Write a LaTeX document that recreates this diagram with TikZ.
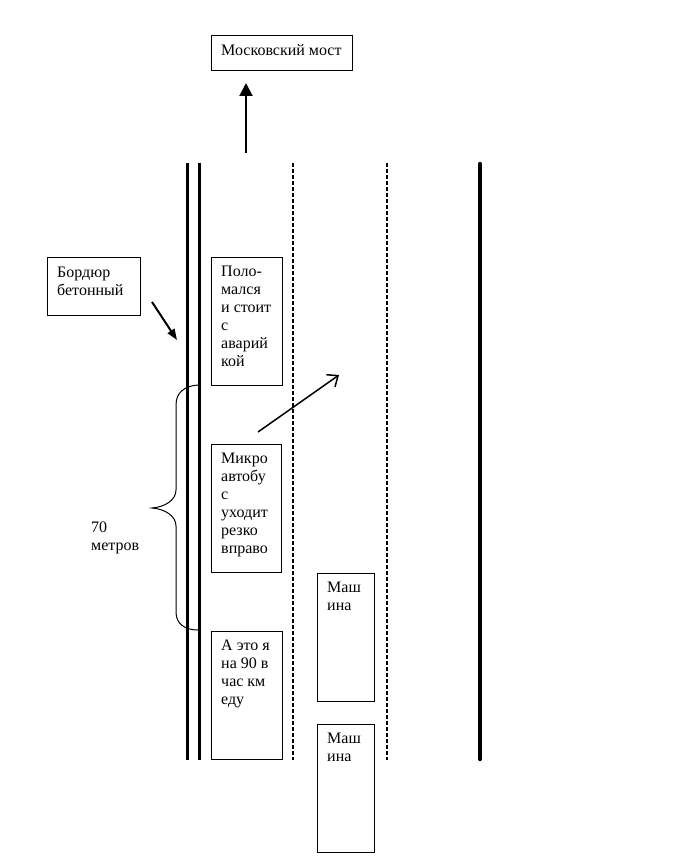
\documentclass[tikz,border=0pt]{standalone}
\usepackage{fontspec}
\setmainfont{Liberation Serif}
\usetikzlibrary{arrows.meta}
\tikzset{
  box/.style={draw, line width=0.9pt, inner sep=0pt, anchor=north west},
  txt/.style={inner sep=0pt, anchor=base west, font=\fontsize{16}{18}\selectfont},
  curb/.style={line width=3pt},
  lane/.style={line width=2pt, dash pattern=on 4pt off 2pt},
  edge/.style={line width=4.5pt, line cap=round},
}
\newcommand{\tl}[1]{\parbox[t]{90pt}{#1}}
\begin{document}
\begin{tikzpicture}[x=1pt,y=-1pt]
\useasboundingbox (0,0) rectangle (689,864);
% road lines
\draw[curb] (187,163) -- (187,760);
\draw[curb] (199,163) -- (199,760);
\draw[lane] (293,163) -- (293,760);
\draw[lane] (387,163) -- (387,760);
\draw[edge] (480,164) -- (480,759);
% destination
\node[box, minimum width=141pt, minimum height=35pt] (most) at (211,35) {};
\node[txt] (mostt) at (221,56) {Московский мост};
\coordinate (upS) at (246,153);
\coordinate (upE) at (246,83);
\draw[line width=2pt, -{Triangle[length=13pt,width=13pt]}] (upS) -- (upE);
% curb label
\node[box, minimum width=93pt, minimum height=58pt] (bord) at (47,257) {};
\node[txt] (bordt) at (57,277) {\tl{Бордюр\\бетонный}};
\coordinate (bS) at (152,302);
\coordinate (bE) at (177,340);
\draw[line width=2pt, -{Triangle[length=11pt,width=8pt]}] (bS) -- (bE);
% broken car
\node[box, minimum width=71pt, minimum height=128pt] (polo) at (211,257) {};
\node[txt] (polot) at (221,276) {\tl{Поло-\\мался\\и стоит\\с\\аварий\\кой}};
% minibus
\node[box, minimum width=70pt, minimum height=128pt] (mikro) at (211,444) {};
\node[txt] (mikrot) at (221,463) {\tl{Микро\\автобу\\с\\уходит\\резко\\вправо}};
\coordinate (dS) at (258,432);
\coordinate (dE) at (339,375);
\draw[line width=1.5pt, -{Straight Barb[length=9pt,width=15pt]}] (dS) -- (dE);
% me
\node[box, minimum width=71pt, minimum height=128pt] (me) at (211,631) {};
\node[txt] (met) at (221,650) {\tl{А это я\\на 90 в\\час км\\еду}};
% cars
\node[box, minimum width=57pt, minimum height=128pt] (car1) at (317,573) {};
\node[txt] (car1t) at (327,592) {\tl{Маш\\ина}};
\node[box, minimum width=57pt, minimum height=128pt] (car2) at (317,724) {};
\node[txt] (car2t) at (327,743) {\tl{Маш\\ина}};
% brace
\draw[line width=1pt] (198,385) .. controls (185,386) and (176,392) .. (176,405)
  -- (176,490) .. controls (176,500) and (165,507) .. (152,508)
  .. controls (165,509) and (176,516) .. (176,526)
  -- (176,612) .. controls (176,624) and (185,630) .. (198,630);
\node[txt] (dist) at (91,532) {\tl{70\\метров}};
\end{tikzpicture}
\end{document}
